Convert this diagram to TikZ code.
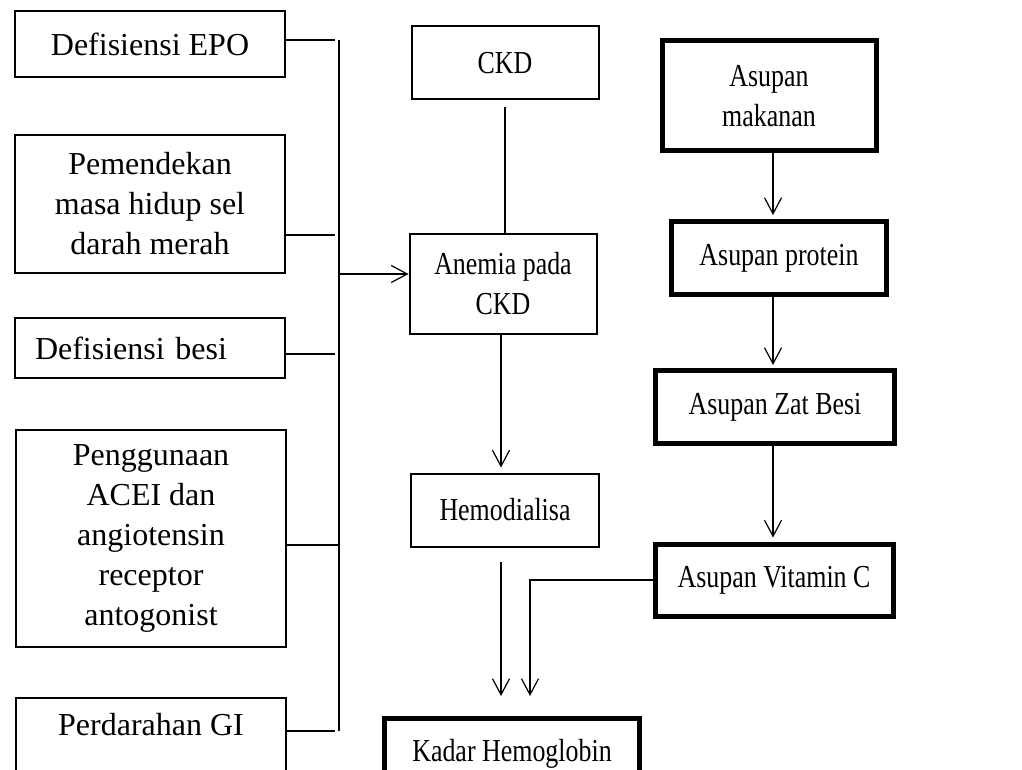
\documentclass[tikz,border=0pt]{standalone}
\usepackage{fontspec}
\setmainfont{Liberation Serif}
\newfontfamily\narrowserif[FakeStretch=0.81]{Liberation Serif}
\usetikzlibrary{arrows.meta}

\begin{document}
\begin{tikzpicture}[x=1pt,y=-1pt,
  box/.style={draw,line width=2pt,inner sep=0pt,align=center,font=\fontsize{32}{40}\selectfont},
  thinbox/.style={box,font=\fontsize{32}{40}\narrowserif},
  thickbox/.style={thinbox,line width=5pt},
  link/.style={line width=1.2pt},
  arr/.style={link,-{Straight Barb[length=16pt,width=17pt]}}]
\useasboundingbox (0,0) rectangle (1022,770);
\clip (0,0) rectangle (1022,770);

\node[box,minimum width=270pt,minimum height=66pt] (epo) at (150,44) {Defisiensi EPO};
\node[box,minimum width=270pt,minimum height=138pt] (pem) at (150,204) {Pemendekan\\masa hidup sel\\darah merah};
\node[box,minimum width=270pt,minimum height=60pt,text width=230pt,align=left] (besi) at (150,348) {Defisiensi besi};
\node[box,minimum width=270pt,minimum height=217pt] (pgn) at (151,538) {Penggunaan\\ACEI dan\\angiotensin\\receptor\\antogonist};
\node[box,minimum width=270pt,text height=37pt,text depth=55pt,anchor=base] (gi) at (151,735) {Perdarahan GI};

\node[thinbox,minimum width=187pt,minimum height=73pt] (ckd) at (505,63) {CKD};
\node[thinbox,minimum width=187pt,minimum height=100pt] (anm) at (503,284) {Anemia pada\\CKD};
\node[thinbox,minimum width=188pt,minimum height=73pt] (hd) at (505,510) {Hemodialisa};
\node[thickbox,minimum width=255pt,text height=43pt,text depth=40pt,anchor=base] (hb) at (512,761) {Kadar Hemoglobin};

\node[thickbox,minimum width=214pt,minimum height=110pt] (mkn) at (769,96) {Asupan\\makanan};
\node[thickbox,minimum width=215pt,minimum height=73pt] (prot) at (779,258) {Asupan protein};
\node[thickbox,minimum width=239pt,minimum height=73pt] (fe) at (775,407) {Asupan Zat Besi};
\node[thickbox,minimum width=238pt,minimum height=72pt] (vitc) at (774,580) {Asupan Vitamin C};

\coordinate (b1) at (335,40);
\coordinate (b2) at (335,235);
\coordinate (b3) at (335,354);
\coordinate (b4) at (339,545);
\coordinate (b5) at (335,731);
\coordinate (bt) at (339,40);
\coordinate (bb) at (339,731);
\coordinate (bm) at (339,274);
\draw[link] (epo.east |- b1) -- (b1);
\draw[link] (pem.east |- b2) -- (b2);
\draw[link] (besi.east |- b3) -- (b3);
\draw[link] (pgn.east |- b4) -- (b4);
\draw[link] (gi.east |- b5) -- (b5);
\draw[link] (bt) -- (bb);
\draw[arr] (bm) -- (bm -| anm.west);

\coordinate (mc) at (501,0);
\coordinate (hbl) at (501,696);
\coordinate (hbr) at (530,696);
\draw[link,shorten <=7pt] (ckd.south) -- (ckd.south |- anm.north);
\draw[arr,shorten >=5pt] (anm.south -| mc) -- (hd.north -| mc);
\draw[arr,shorten <=14pt] (hd.south -| hbl) -- (hbl);
\draw[arr] (vitc.west) -| (hbr);

\coordinate (rc) at (773,0);
\draw[arr,shorten >=4pt] (mkn.south -| rc) -- (prot.north -| rc);
\draw[arr,shorten >=3pt] (prot.south -| rc) -- (fe.north -| rc);
\draw[arr,shorten >=4pt] (fe.south -| rc) -- (vitc.north -| rc);
\end{tikzpicture}
\end{document}
